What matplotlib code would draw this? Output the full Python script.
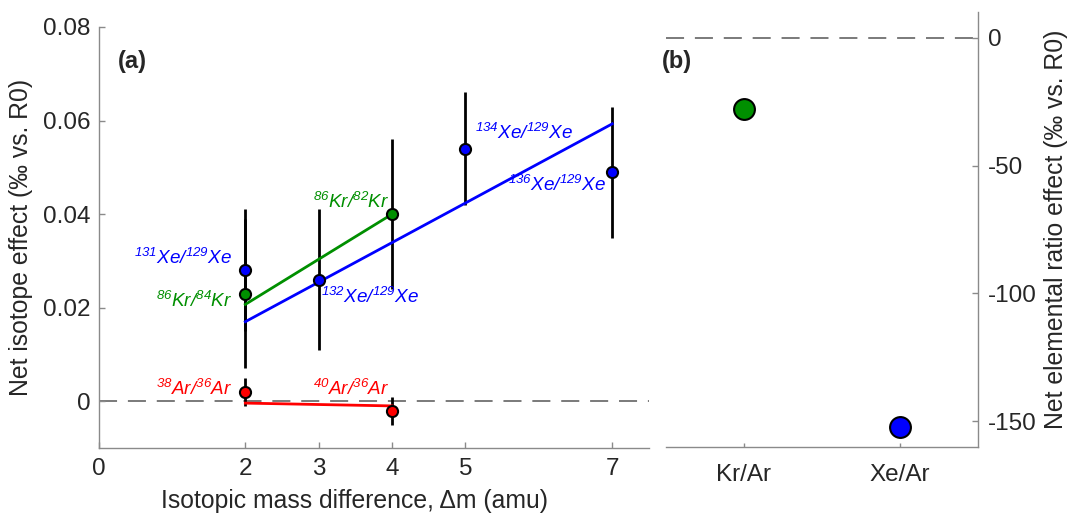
import matplotlib
matplotlib.use("Agg")
import matplotlib.pyplot as plt

# ---------------------------------------------------------------------------
# Data
# ---------------------------------------------------------------------------
# (a) isotope ratios vs. mass difference
xe_dm = [2, 3, 5, 7]
xe_val = [0.028, 0.026, 0.054, 0.049]
xe_err = [0.013, 0.015, 0.012, 0.014]
xe_fit_x = [2, 7]
xe_fit_y = [0.0170, 0.0593]

kr_dm = [2, 4]
kr_val = [0.023, 0.040]
kr_err = [0.016, 0.016]
kr_fit_x = [2, 4]
kr_fit_y = [0.0207, 0.0400]

ar_dm = [2, 4]
ar_val = [0.0019, -0.0021]
ar_err = [0.003, 0.003]
ar_fit_x = [2, 4]
ar_fit_y = [-0.0004, -0.0010]

# (b) elemental ratios
elem_labels = ["Kr/Ar", "Xe/Ar"]
elem_val = [-28, -152]

BLUE = "#0000ff"
GREEN = "#008f00"
RED = "#ff0000"
SPINE = "#8a8a8a"
TXT = "#262626"

plt.rcParams["font.family"] = ["Liberation Sans", "DejaVu Sans"]
plt.rcParams["mathtext.fontset"] = "custom"
plt.rcParams["mathtext.it"] = "Liberation Sans:italic"
plt.rcParams["mathtext.rm"] = "Liberation Sans:italic"   # italic superscripts too
plt.rcParams["axes.unicode_minus"] = False

fig = plt.figure(figsize=(10.7, 5.18), dpi=100)
ax_a = fig.add_axes([0.0921, 0.1351, 0.5144, 0.8128])
ax_b = fig.add_axes([0.6224, 0.1371, 0.2916, 0.8397])

DASH = (0, (10, 6))


def style_axis(ax):
    for side in ("top", "right", "left", "bottom"):
        ax.spines[side].set_color(SPINE)
        ax.spines[side].set_linewidth(1.0)
    ax.tick_params(direction="in", colors=SPINE, labelcolor=TXT,
                   labelsize=17.5, length=4.5, width=1.0)


# --- (a) ---
style_axis(ax_a)
ax_a.spines["top"].set_visible(False)
ax_a.spines["right"].set_visible(False)
ax_a.axhline(0, color="#707070", lw=1.3, ls=DASH, zorder=1)

for dm, val, err in ((xe_dm, xe_val, xe_err), (kr_dm, kr_val, kr_err),
                     (ar_dm, ar_val, ar_err)):
    ax_a.errorbar(dm, val, yerr=err, fmt="none", ecolor="black",
                  elinewidth=2.0, capsize=0, zorder=2)

ax_a.plot(kr_fit_x, kr_fit_y, color=GREEN, lw=2.0, zorder=3)
ax_a.plot(xe_fit_x, xe_fit_y, color=BLUE, lw=2.0, zorder=3)
ax_a.plot(ar_fit_x, ar_fit_y, color=RED, lw=2.0, zorder=3)

for dm, val, col in ((xe_dm, xe_val, BLUE), (kr_dm, kr_val, GREEN),
                     (ar_dm, ar_val, RED)):
    ax_a.plot(dm, val, "o", ms=8, mfc=col, mec="black", mew=1.5,
              ls="none", zorder=4)

lab_kw = dict(fontsize=13.6, va="baseline")
ax_a.text(1.82, 0.0293, r"$^{131}Xe/^{129}Xe$", color=BLUE, ha="right", **lab_kw)
ax_a.text(1.82, 0.0201, r"$^{86}Kr/^{84}Kr$", color=GREEN, ha="right", **lab_kw)
ax_a.text(1.82, 0.0013, r"$^{38}Ar/^{36}Ar$", color=RED, ha="right", **lab_kw)
ax_a.text(3.44, 0.0414, r"$^{86}Kr/^{82}Kr$", color=GREEN, ha="center", **lab_kw)
ax_a.text(3.03, 0.0210, r"$^{132}Xe/^{129}Xe$", color=BLUE, ha="left", **lab_kw)
ax_a.text(3.44, 0.0013, r"$^{40}Ar/^{36}Ar$", color=RED, ha="center", **lab_kw)
ax_a.text(5.13, 0.0560, r"$^{134}Xe/^{129}Xe$", color=BLUE, ha="left", **lab_kw)
ax_a.text(6.92, 0.0450, r"$^{136}Xe/^{129}Xe$", color=BLUE, ha="right", **lab_kw)

ax_a.text(0.035, 0.917, "(a)", transform=ax_a.transAxes, fontsize=17,
          fontweight="bold", color=TXT, va="center", ha="left")

ax_a.set_xlim(0, 7.5)
ax_a.set_ylim(-0.01, 0.08)
ax_a.set_xticks([0, 2, 3, 4, 5, 7])
ax_a.set_xticklabels(["0", "2", "3", "4", "5", "7"])
ax_a.set_yticks([0, 0.02, 0.04, 0.06, 0.08])
ax_a.set_yticklabels(["0", "0.02", "0.04", "0.06", "0.08"])
ax_a.tick_params(axis="y", pad=6)
ax_a.tick_params(axis="x", pad=7)
ax_a.set_xlabel("Isotopic mass difference, \u0394m (amu)", fontsize=17.8,
                color=TXT)
ax_a.xaxis.set_label_coords(0.465, -0.097, transform=ax_a.transAxes)
ax_a.xaxis.label.set_va("top")
ax_a.set_ylabel("Net isotope effect (\u2030 vs. R0)", fontsize=17.8, color=TXT,
                labelpad=7)

# --- (b) ---
style_axis(ax_b)
ax_b.spines["top"].set_visible(False)
ax_b.spines["left"].set_visible(False)
ax_b.yaxis.tick_right()
ax_b.yaxis.set_label_position("right")
ax_b.axhline(0, color="#707070", lw=1.3, ls=DASH, zorder=1)

xpos = list(range(1, len(elem_labels) + 1))
ax_b.plot(xpos[:1], elem_val[:1], "o", ms=15, mfc=GREEN, mec="black",
          mew=1.5, ls="none", zorder=3)
ax_b.plot(xpos[1:], elem_val[1:], "o", ms=15, mfc=BLUE, mec="black",
          mew=1.5, ls="none", zorder=3)

ax_b.text(-0.013, 0.886, "(b)", transform=ax_b.transAxes, fontsize=17,
          fontweight="bold", color=TXT, va="center", ha="left")

ax_b.set_xlim(0.5, 2.5)
ax_b.set_ylim(-160, 10)
ax_b.set_xticks(xpos)
ax_b.set_xticklabels(elem_labels)
ax_b.set_yticks([0, -50, -100, -150])
ax_b.set_yticklabels(["0", "-50", "-100", "-150"])
ax_b.tick_params(axis="x", pad=12, length=3)
ax_b.tick_params(axis="y", pad=7)
ax_b.set_ylabel("Net elemental ratio effect (\u2030 vs. R0)", fontsize=17.8,
                color=TXT, labelpad=5)

fig.savefig("out.png", dpi=100)
